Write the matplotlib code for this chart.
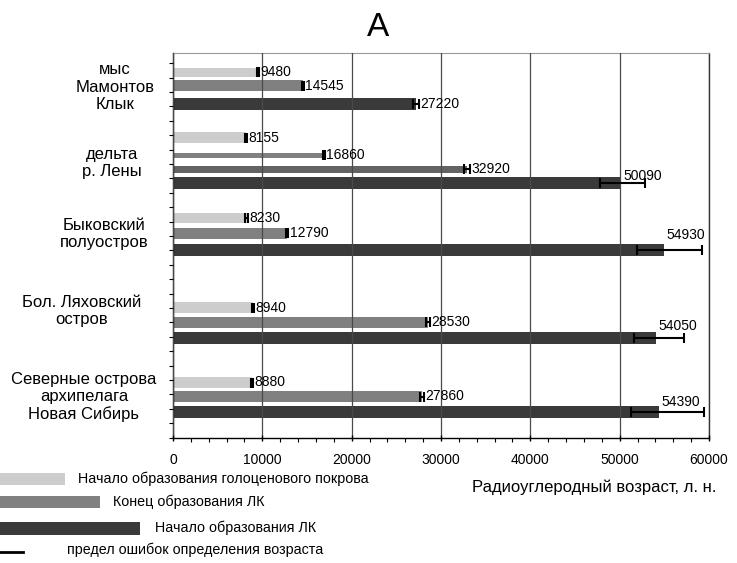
import matplotlib
matplotlib.use('Agg')
import matplotlib.pyplot as plt
from matplotlib.patches import Rectangle
from matplotlib.lines import Line2D
import numpy as np

plt.rcParams['font.family'] = ['Liberation Sans', 'DejaVu Sans']

# values
sites = ['мыс\nМамонтов\nКлык', 'дельта\nр. Лены', 'Быковский\nполуостров',
         'Бол. Ляховский\nостров', 'Северные острова\nархипелага\nНовая Сибирь']
ages = [9480, 14545, 27220,
        8155, 16860, 32920, 50090,
        8230, 12790, 54930,
        8940, 28530, 54050,
        8880, 27860, 54390]
err_lo = [120, 120, 300,
          120, 120, 350, 2300,
          120, 120, 3000,
          120, 200, 2400,
          120, 200, 3100]
err_hi = [120, 120, 300,
          120, 120, 350, 2800,
          120, 120, 4300,
          120, 200, 3200,
          120, 200, 5000]
kinds = ['holo', 'end', 'start',
         'holo', 'end', 'end2', 'start',
         'holo', 'end', 'start',
         'holo', 'end', 'start',
         'holo', 'end', 'start']
legend_labels = ['Начало образования голоценового покрова',
                 'Конец образования ЛК',
                 'Начало образования ЛК',
                 'предел ошибок определения возраста']
x_label = 'Радиоуглеродный возраст, л. н.'

# layout: bar rows measured in px from the top of the plot area
bar_pos = [19, 32.5, 51, 84.5, 102, 116, 130, 165, 180, 197, 254.5, 269, 285, 329.5, 343.5, 359]
bar_h = [9, 11, 12, 11, 5, 7, 12, 10, 11, 12, 11, 11, 12, 11, 11, 12]
site_pos = [34, 110, 181, 258, 344]
site_x = [115, 112, 104, 82, 84]
big_dy = {6: -7, 9: -15, 12: -12, 15: -10}
colors = {'holo': '#cdcdcd', 'end': '#808080', 'end2': '#636363', 'start': '#3a3a3a'}

W, H = 737, 563
def px(x, y):
    return x / W, 1 - y / H

fig = plt.figure(figsize=(W / 100, H / 100), dpi=100)
ax = fig.add_axes([173 / W, 1 - 437.5 / H, 536 / W, 384.5 / H])

ax.barh(bar_pos, ages, height=bar_h, color=[colors[k] for k in kinds], zorder=2)
ax.errorbar(ages, bar_pos, xerr=[err_lo, err_hi], fmt='none', ecolor='black',
            elinewidth=1.5, capsize=3.5, capthick=1.5, zorder=3)

for i, (a, y) in enumerate(zip(ages, bar_pos)):
    if i in big_dy:
        ax.text(a + 300, y + big_dy[i], str(a), fontsize=10, ha='left', va='center', zorder=4)
    else:
        ax.text(a + err_hi[i] + 150, y, str(a), fontsize=10, ha='left', va='center', zorder=4)

ax.set_xlim(0, 60000)
ax.set_ylim(384.5, 0)
ax.set_xticks(np.arange(0, 60001, 10000))
ax.set_xticks(np.arange(0, 60001, 2000), minor=True)
ax.tick_params(axis='x', which='major', length=4, width=1, direction='inout', labelsize=10, pad=9)
ax.tick_params(axis='x', which='minor', length=3, width=0.8, direction='out')
ax.set_yticks(384.5 - 14.4 * np.arange(0, 27))
ax.set_yticklabels([])
ax.tick_params(axis='y', length=3, width=0.8, direction='out')

ax.grid(axis='x', color='#4a4a4a', linewidth=0.9, zorder=1.5)
ax.set_axisbelow(False)
for s in ['left', 'bottom']:
    ax.spines[s].set_color('black')
    ax.spines[s].set_linewidth(1.0)
ax.spines['top'].set_color('#999999')
ax.spines['top'].set_linewidth(0.8)
ax.spines['right'].set_color('#333333')
ax.spines['right'].set_linewidth(1.0)

# site names, x in figure fraction, y on the data rows
site_tr = matplotlib.transforms.blended_transform_factory(fig.transFigure, ax.transData)
for name, y, x in zip(sites, site_pos, site_x):
    fig.text(x / W, y, name, fontsize=12, ha='center', va='center', linespacing=1.2,
             transform=site_tr)

fig.text(*px(378, 27), 'A', fontsize=24, ha='center', va='center')
fig.text(*px(594, 487), x_label, fontsize=12, ha='center', va='center')

# legend
sw = [(65, 473, 12, colors['holo'], 78, 479),
      (100, 496, 12, colors['end'], 113, 502),
      (140, 522, 13, colors['start'], 155, 528)]
for (w, y0, h, c, tx, ty), lab in zip(sw, legend_labels[:3]):
    fig.add_artist(Rectangle(px(0, y0 + h), w / W, h / H, transform=fig.transFigure,
                             facecolor=c, edgecolor='none'))
    fig.text(*px(tx, ty), lab, fontsize=10.3, ha='left', va='center')
fig.add_artist(Line2D([0, 23 / W], [1 - 552 / H] * 2, color='black', lw=2, transform=fig.transFigure))
fig.text(*px(67, 550), legend_labels[3], fontsize=10.3, ha='left', va='center')

fig.savefig('out.png', dpi=100)
